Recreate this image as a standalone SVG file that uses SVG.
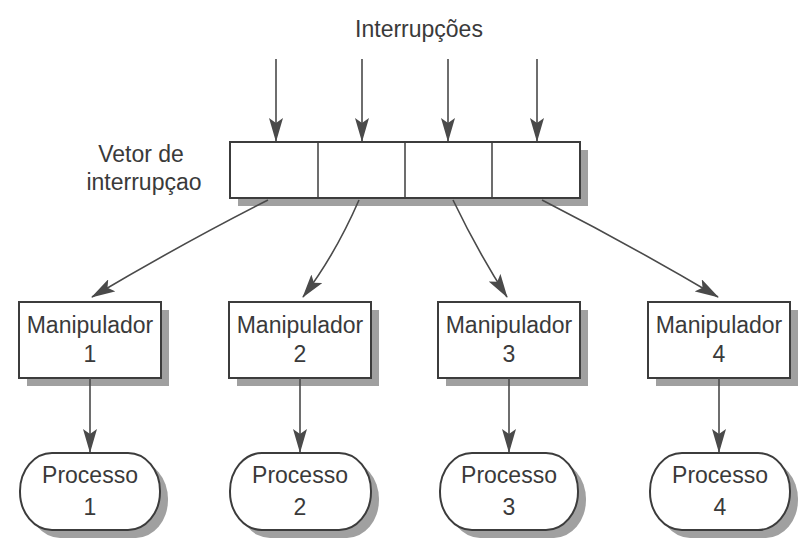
<svg xmlns="http://www.w3.org/2000/svg" width="812" height="552" viewBox="0 0 812 552">
<style>
  .t { font-family: "Liberation Sans", Arial, sans-serif; font-size: 23px; fill: #3a3a3a; text-anchor: middle; }
  .box { fill: #ffffff; stroke: #3c3c3c; stroke-width: 2; }
  .sh { fill: #a0a0a0; }
  .ln { fill: none; stroke: #4a4a4a; stroke-width: 1.6; marker-end: url(#ah); }
  .div { stroke: #3c3c3c; stroke-width: 1.5; }
</style>
<defs>
  <marker id="ah" markerWidth="24" markerHeight="14" viewBox="0 0 24 14" refX="23" refY="7" orient="auto" markerUnits="userSpaceOnUse">
    <path d="M0,0 L24,7 L0,14 L5,7 Z" fill="#4a4a4a"/>
  </marker>
</defs>
<rect width="812" height="552" fill="#ffffff"/>

<g id="label-interrupcoes">
  <text class="t" x="419" y="37">Interrupções</text>
</g>

<g id="vetor">
  <rect class="sh" x="238" y="150" width="350" height="56"/>
  <rect class="box" x="230" y="142" width="350" height="56"/>
  <line class="div" x1="318" y1="142" x2="318" y2="198"/>
  <line class="div" x1="405" y1="142" x2="405" y2="198"/>
  <line class="div" x1="492" y1="142" x2="492" y2="198"/>
  <text class="t" x="141" y="162">Vetor de</text>
  <text class="t" x="144" y="190">interrupçao</text>
</g>

<g id="manipulador1">
  <rect class="sh" x="27" y="310" width="142" height="76"/>
  <rect class="box" x="19" y="302" width="142" height="76"/>
  <text class="t" x="90" y="333">Manipulador</text>
  <text class="t" x="90" y="362">1</text>
</g>
<g id="manipulador2">
  <rect class="sh" x="237" y="310" width="142" height="76"/>
  <rect class="box" x="229" y="302" width="142" height="76"/>
  <text class="t" x="300" y="333">Manipulador</text>
  <text class="t" x="300" y="362">2</text>
</g>
<g id="manipulador3">
  <rect class="sh" x="446" y="310" width="142" height="76"/>
  <rect class="box" x="438" y="302" width="142" height="76"/>
  <text class="t" x="509" y="333">Manipulador</text>
  <text class="t" x="509" y="362">3</text>
</g>
<g id="manipulador4">
  <rect class="sh" x="656" y="310" width="142" height="76"/>
  <rect class="box" x="648" y="302" width="142" height="76"/>
  <text class="t" x="719" y="333">Manipulador</text>
  <text class="t" x="719" y="362">4</text>
</g>

<g id="processo1">
  <rect class="sh" x="28" y="461" width="140" height="77" rx="32" ry="38"/>
  <rect class="box" x="20" y="453" width="140" height="77" rx="32" ry="38"/>
  <text class="t" x="90" y="483">Processo</text>
  <text class="t" x="90" y="515">1</text>
</g>
<g id="processo2">
  <rect class="sh" x="238" y="461" width="141" height="77" rx="32" ry="38"/>
  <rect class="box" x="230" y="453" width="141" height="77" rx="32" ry="38"/>
  <text class="t" x="300" y="483">Processo</text>
  <text class="t" x="300" y="515">2</text>
</g>
<g id="processo3">
  <rect class="sh" x="448" y="461" width="138" height="77" rx="32" ry="38"/>
  <rect class="box" x="440" y="453" width="138" height="77" rx="32" ry="38"/>
  <text class="t" x="509" y="483">Processo</text>
  <text class="t" x="509" y="515">3</text>
</g>
<g id="processo4">
  <rect class="sh" x="658" y="461" width="140" height="77" rx="32" ry="38"/>
  <rect class="box" x="650" y="453" width="140" height="77" rx="32" ry="38"/>
  <text class="t" x="720" y="483">Processo</text>
  <text class="t" x="720" y="515">4</text>
</g>

<g id="connectors">
  <line class="ln" x1="276" y1="59" x2="276" y2="141"/>
  <line class="ln" x1="362" y1="59" x2="362" y2="141"/>
  <line class="ln" x1="448" y1="59" x2="448" y2="141"/>
  <line class="ln" x1="537" y1="59" x2="537" y2="141"/>

  <path class="ln" d="M268,200 Q185,242 92,297"/>
  <path class="ln" d="M359,200 Q335,255 303,297"/>
  <path class="ln" d="M453,200 Q478,252 507,297"/>
  <path class="ln" d="M542,200 Q630,245 718,297"/>

  <line class="ln" x1="90" y1="378" x2="90" y2="452"/>
  <line class="ln" x1="300" y1="378" x2="300" y2="452"/>
  <line class="ln" x1="509" y1="378" x2="509" y2="452"/>
  <line class="ln" x1="719" y1="378" x2="719" y2="452"/>
</g>
</svg>
